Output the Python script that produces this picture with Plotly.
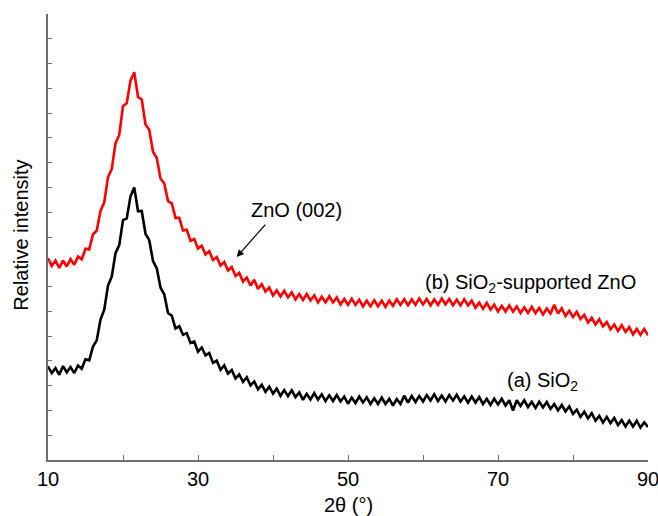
import plotly.graph_objects as go

two_theta = [10 + 0.5 * i for i in range(161)]

sio2 = [
    3.78, 3.51, 3.71, 3.44, 3.79, 3.54, 3.75, 3.51, 3.81, 3.68,
    4.07, 4.02, 4.58, 4.83, 5.67, 6.07, 7.04, 7.40, 8.35, 8.67,
    9.68, 9.75, 10.64, 11.00, 10.04, 10.05, 9.13, 8.87, 8.03, 7.74,
    6.96, 6.69, 5.93, 5.83, 5.31, 5.40, 5.05, 5.12, 4.72, 4.78,
    4.37, 4.54, 4.22, 4.32, 3.92, 4.01, 3.64, 3.82, 3.49, 3.63,
    3.29, 3.45, 3.15, 3.34, 3.01, 3.17, 2.85, 3.03, 2.75, 2.96,
    2.68, 2.88, 2.59, 2.82, 2.58, 2.81, 2.54, 2.73, 2.43, 2.67,
    2.44, 2.70, 2.44, 2.65, 2.38, 2.61, 2.38, 2.62, 2.36, 2.56,
    2.27, 2.52, 2.30, 2.56, 2.32, 2.53, 2.26, 2.49, 2.26, 2.52,
    2.26, 2.47, 2.20, 2.46, 2.26, 2.60, 2.32, 2.58, 2.34, 2.58,
    2.36, 2.62, 2.40, 2.65, 2.38, 2.60, 2.36, 2.62, 2.40, 2.63,
    2.36, 2.57, 2.31, 2.56, 2.32, 2.54, 2.26, 2.47, 2.22, 2.47,
    2.24, 2.47, 2.20, 2.41, 2.00, 2.41, 2.18, 2.41, 2.14, 2.35,
    2.10, 2.35, 2.12, 2.34, 2.06, 2.26, 2.00, 2.22, 1.96, 2.16,
    1.86, 2.03, 1.74, 1.95, 1.68, 1.89, 1.59, 1.78, 1.51, 1.74,
    1.49, 1.70, 1.41, 1.61, 1.35, 1.59, 1.35, 1.58, 1.31, 1.52,
    1.33,
]

zno_sio2 = [
    8.14, 7.83, 8.05, 7.75, 8.05, 7.81, 8.11, 7.88, 8.21, 8.10,
    8.53, 8.50, 9.11, 9.26, 10.05, 10.40, 11.42, 11.74, 12.79, 13.12,
    14.29, 14.40, 15.31, 15.65, 14.65, 14.55, 13.54, 13.33, 12.44, 12.19,
    11.36, 11.17, 10.45, 10.36, 9.77, 9.77, 9.26, 9.29, 8.84, 8.92,
    8.54, 8.65, 8.29, 8.43, 8.07, 8.19, 7.85, 7.99, 7.65, 7.79,
    7.43, 7.55, 7.20, 7.36, 7.04, 7.28, 6.90, 7.10, 6.80, 6.96,
    6.64, 6.85, 6.60, 6.83, 6.56, 6.76, 6.48, 6.70, 6.46, 6.70,
    6.44, 6.64, 6.36, 6.59, 6.36, 6.61, 6.36, 6.56, 6.28, 6.50,
    6.26, 6.51, 6.26, 6.47, 6.20, 6.43, 6.20, 6.45, 6.20, 6.43,
    6.18, 6.43, 6.22, 6.49, 6.26, 6.49, 6.24, 6.48, 6.26, 6.52,
    6.28, 6.50, 6.24, 6.48, 6.26, 6.52, 6.28, 6.50, 6.24, 6.47,
    6.24, 6.49, 6.24, 6.43, 6.14, 6.35, 6.10, 6.34, 6.07, 6.27,
    5.99, 6.22, 5.99, 6.24, 5.99, 6.20, 5.93, 6.16, 5.93, 6.18,
    5.93, 6.14, 5.87, 6.11, 5.91, 6.26, 5.91, 6.12, 5.81, 6.02,
    5.77, 5.98, 5.69, 5.86, 5.55, 5.74, 5.47, 5.68, 5.39, 5.57,
    5.27, 5.47, 5.21, 5.44, 5.17, 5.36, 5.07, 5.29, 5.05, 5.29,
    5.03,
]

y_tick_vals = list(range(0, 19))

FONT = "Liberation Sans, Arial, sans-serif"
AXIS_COLOR = "#707070"
FS = 20

fig = go.Figure()
fig.add_trace(go.Scatter(x=two_theta, y=sio2, mode="lines",
                         line=dict(color="black", width=2.6), showlegend=False))
fig.add_trace(go.Scatter(x=two_theta, y=zno_sio2, mode="lines",
                         line=dict(color="#ff0000", width=2.6), showlegend=False))

fig.update_layout(
    width=658, height=516,
    margin=dict(l=48, r=10, t=14, b=56),
    paper_bgcolor="white", plot_bgcolor="white",
    font=dict(family=FONT, size=FS, color="black"),
    xaxis=dict(
        range=[10, 90], tick0=10, dtick=20,
        ticks="inside", ticklen=5, tickwidth=1.3, tickcolor=AXIS_COLOR,
        minor=dict(dtick=10, ticks="inside", ticklen=5, tickwidth=1.3,
                   tickcolor=AXIS_COLOR, showgrid=False),
        showline=True, linecolor=AXIS_COLOR, linewidth=1.5,
        showgrid=False, zeroline=False, automargin=False,
        ticklabeloverflow="allow",
        tickfont=dict(family=FONT, size=FS, color="black"),
    ),
    yaxis=dict(
        range=[0, 18], tickvals=y_tick_vals, showticklabels=False,
        ticks="inside", ticklen=4, tickwidth=1.3, tickcolor=AXIS_COLOR,
        showline=True, linecolor=AXIS_COLOR, linewidth=1.5,
        showgrid=False, zeroline=False, automargin=False,
    ),
)

# axis titles
fig.add_annotation(xref="paper", yref="paper", x=0, y=0.503, xshift=-27,
                   text="Relative intensity", textangle=-90, showarrow=False,
                   xanchor="center", yanchor="middle",
                   font=dict(family=FONT, size=FS, color="black"))
fig.add_annotation(xref="paper", yref="paper", x=0.5, y=0, yshift=-45,
                   text="2θ (°)", showarrow=False,
                   xanchor="center", yanchor="middle",
                   font=dict(family=FONT, size=FS, color="black"))

fig.add_annotation(x=35.16, y=8.19, ax=30, ay=-34, text="", showarrow=True,
                   arrowhead=2, arrowsize=1.2, arrowwidth=1.2, arrowcolor="black")
fig.add_annotation(x=43.16, y=10.09, text="ZnO (002)", showarrow=False,
                   font=dict(family=FONT, size=FS, color="black"))
fig.add_annotation(x=74.27, y=7.14, text="(b) SiO<sub>2</sub>-supported ZnO",
                   showarrow=False, font=dict(family=FONT, size=FS, color="black"))
fig.add_annotation(x=75.93, y=3.16, text="(a) SiO<sub>2</sub>",
                   showarrow=False, font=dict(family=FONT, size=FS, color="black"))

fig.write_html("out.html", config={"displayModeBar": False},
               post_script="document.body.style.margin='0';")
